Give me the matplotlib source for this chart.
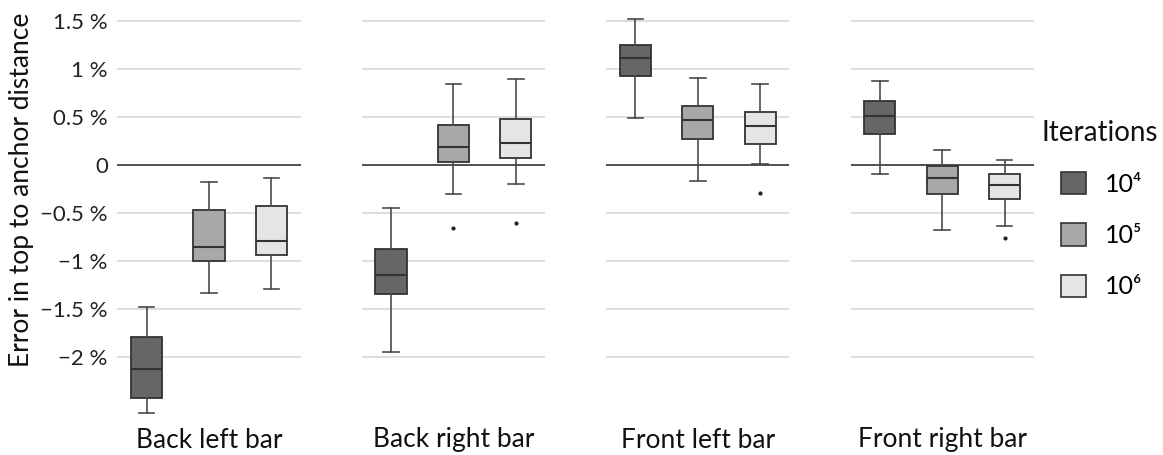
import matplotlib
matplotlib.use("Agg")
import matplotlib.pyplot as plt
from matplotlib.patches import Patch

plt.rcParams['font.family'] = ['Lato', 'DejaVu Sans']

facets = ["Back left bar", "Back right bar", "Front left bar", "Front right bar"]
iterations = ["10⁴", "10⁵", "10⁶"]
fills = ["#666666", "#a8a8a8", "#e5e5e5"]

# box stats in percent, one row per facet, one column per iteration count
whis_lo = [[-2.58, -1.33, -1.29],
           [-1.94, -0.30, -0.20],
           [0.49, -0.17, 0.01],
           [-0.09, -0.68, -0.63]]
q1 = [[-2.42, -1.00, -0.94],
      [-1.34, 0.03, 0.07],
      [0.93, 0.27, 0.22],
      [0.32, -0.30, -0.35]]
med = [[-2.12, -0.85, -0.79],
       [-1.14, 0.19, 0.23],
       [1.11, 0.47, 0.41],
       [0.51, -0.14, -0.21]]
q3 = [[-1.79, -0.47, -0.43],
      [-0.87, 0.42, 0.48],
      [1.25, 0.61, 0.55],
      [0.67, -0.01, -0.09]]
whis_hi = [[-1.48, -0.18, -0.14],
           [-0.45, 0.84, 0.89],
           [1.52, 0.90, 0.84],
           [0.87, 0.16, 0.05]]
outliers = [[[], [], []],
            [[], [-0.65], [-0.60]],
            [[], [], [-0.29]],
            [[], [], [-0.76]]]

yticks = [-2, -1.5, -1, -0.5, 0, 0.5, 1, 1.5]


def fmt(v):
    if v == 0:
        return "0"
    s = ("%g" % abs(v))
    return ("\u2212" if v < 0 else "") + s + " %"


W, H = 1163, 455
fig = plt.figure(figsize=(W / 100, H / 100), dpi=100)

ax_w = 183
ax_top, ax_bot = 8, 420
axes = []
for i, name in enumerate(facets):
    left = 117.5 + i * 244.4
    ax = fig.add_axes([left / W, (H - ax_bot) / H, ax_w / W, (ax_bot - ax_top) / H])
    axes.append(ax)

    stats = []
    for j in range(3):
        stats.append(dict(med=med[i][j], q1=q1[i][j], q3=q3[i][j],
                          whislo=whis_lo[i][j], whishi=whis_hi[i][j],
                          fliers=outliers[i][j]))

    for v in yticks:
        if v != 0:
            ax.axhline(v, color="#d4d4d4", lw=1.1, zorder=0)
    ax.axhline(0, color="#333333", lw=1.2, zorder=1)

    bp = ax.bxp(stats, positions=[1, 2, 3], widths=0.5, patch_artist=True,
                boxprops=dict(edgecolor="#333333", linewidth=1.3),
                medianprops=dict(color="#333333", linewidth=1.5),
                whiskerprops=dict(color="#4a4a4a", linewidth=1.2),
                capprops=dict(color="#4a4a4a", linewidth=1.2),
                flierprops=dict(marker="o", markersize=2, markerfacecolor="#222222",
                                markeredgecolor="#222222"),
                capwidths=0.25, manage_ticks=False)
    for patch, c in zip(bp["boxes"], fills):
        patch.set_facecolor(c)
        patch.set_zorder(2)

    ax.set_xlim(0.535, 3.465)
    ax.set_ylim(-2.651, 1.632)
    ax.set_xticks([])
    for s in ax.spines.values():
        s.set_visible(False)
    ax.set_yticks(yticks)
    ax.tick_params(axis="y", length=0, pad=7, labelsize=16, labelcolor="#222222")
    if i == 0:
        ax.set_yticklabels([fmt(v) for v in yticks])
    else:
        ax.set_yticklabels([])

    fig.text((left + ax_w / 2) / W, 1 - 440 / H, name, ha="center", va="center",
             fontsize=19, color="#111111")

fig.text(22 / W, 1 - 190 / H, "Error in top to anchor distance", rotation=90,
         ha="center", va="center", fontsize=19, color="#111111")

fig.text(1041 / W, 1 - 133 / H, "Iterations", ha="left", va="center",
         fontsize=20, color="#111111")
handles = [Patch(facecolor=c, edgecolor="#333333", linewidth=1.2) for c in fills]
fig.legend(handles, iterations, loc="upper left", bbox_to_anchor=(1061 / W, 1 - 172 / H),
           frameon=False, fontsize=18, handlelength=1.0, handleheight=1.0,
           labelspacing=1.1, handletextpad=0.75, borderpad=0, borderaxespad=0)

fig.savefig("out.png", dpi=100)
